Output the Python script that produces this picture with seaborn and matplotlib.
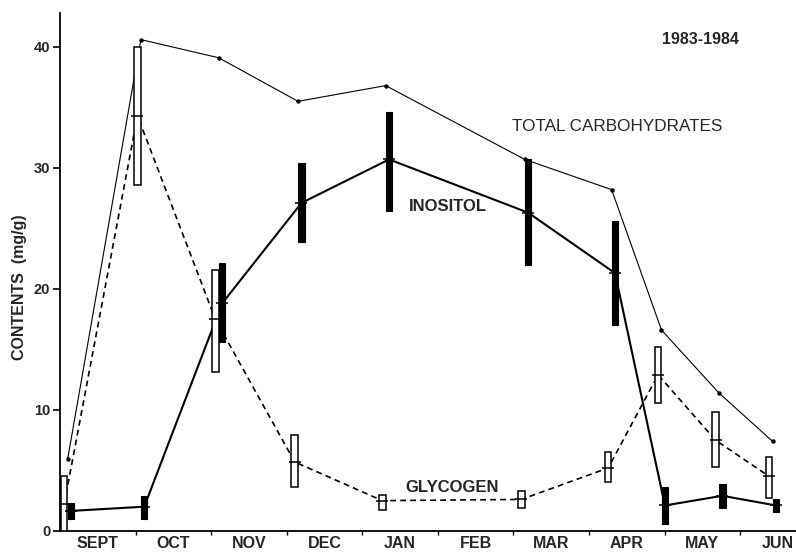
import matplotlib
matplotlib.use("Agg")
import matplotlib.pyplot as plt
import seaborn as sns
import pandas as pd

# sampling positions in months since 1 September 1983
sample_month = [0.10, 1.07, 2.10, 3.15, 4.31, 6.15, 7.30, 7.96, 8.72, 9.43]

total_carbs = [5.9, 40.6, 39.1, 35.5, 36.8, 30.7, 28.2, 16.6, 11.4, 7.4]

glycogen_mean = [2.2, 34.3, 17.5, 5.7, 2.5, 2.6, 5.2, 12.9, 7.5, 4.5]
glycogen_low = [0.0, 28.6, 13.1, 3.6, 1.7, 1.9, 4.0, 10.6, 5.3, 2.7]
glycogen_high = [4.5, 40.0, 21.6, 7.9, 3.0, 3.3, 6.5, 15.2, 9.8, 6.1]

inositol_mean = [1.65, 2.0, 18.8, 27.1, 30.7, 26.3, 21.3, 2.1, 2.9, 2.1]
inositol_low = [1.0, 1.0, 15.6, 23.9, 26.4, 22.0, 17.0, 0.6, 1.9, 1.6]
inositol_high = [2.3, 2.9, 22.1, 30.4, 34.6, 30.7, 25.6, 3.6, 3.9, 2.6]

months = ["SEPT", "OCT", "NOV", "DEC", "JAN", "FEB", "MAR", "APR", "MAY", "JUN"]
y_ticks = [0, 10, 20, 30, 40]


def main():
    sns.set_theme(style="white")
    plt.rcParams["font.family"] = ["Liberation Sans", "DejaVu Sans"]

    df = pd.DataFrame({
        "month": sample_month,
        "total": total_carbs,
        "gly": glycogen_mean,
        "gly_lo": glycogen_low,
        "gly_hi": glycogen_high,
        "ino": inositol_mean,
        "ino_lo": inositol_low,
        "ino_hi": inositol_high,
    })
    # small side-by-side offset so the two boxes don't overlap
    off = 0.045
    df["gx"] = df["month"] - off
    df["ix"] = df["month"] + off

    fig = plt.figure(figsize=(7.96, 5.53), dpi=100)
    ax = fig.add_axes([0.0754, 0.040, 0.9246, 0.9365])

    # total carbohydrates: thin line with dots
    sns.lineplot(data=df, x="month", y="total", ax=ax, color="black",
                 linewidth=0.8, marker="o", markersize=3.2, markeredgewidth=0,
                 zorder=2)
    # glycogen: dashed
    sns.lineplot(data=df, x="gx", y="gly", ax=ax, color="black",
                 linewidth=1.2, dashes=False, linestyle=(0, (3.5, 2.5)), zorder=2)
    # inositol: solid, heavier
    sns.lineplot(data=df, x="ix", y="ino", ax=ax, color="black",
                 linewidth=1.5, zorder=2)

    w = 0.085
    ax.bar(df["gx"], df["gly_hi"] - df["gly_lo"], bottom=df["gly_lo"], width=w,
           facecolor="white", edgecolor="black", linewidth=1.1, zorder=3)
    ax.bar(df["ix"], df["ino_hi"] - df["ino_lo"], bottom=df["ino_lo"], width=w,
           facecolor="black", edgecolor="black", linewidth=0.8, zorder=3)

    # mean marks across the boxes
    ax.scatter(df["gx"], df["gly"], marker="_", s=70, color="black",
               linewidths=1.1, zorder=4)
    ax.scatter(df["ix"], df["ino"], marker="_", s=70, color="black",
               linewidths=1.1, zorder=4)

    ax.set_xlim(0, 9.74)
    ax.set_ylim(0, 42.8)

    ax.set_xticks([i + 0.5 for i in range(len(months))])
    ax.set_xticklabels(months, fontsize=11.5, fontweight="bold")
    ax.set_xticks(range(1, len(months)), minor=True)
    ax.tick_params(axis="x", which="major", length=0, pad=4)
    ax.tick_params(axis="x", which="minor", length=3, width=1, direction="out",
                   bottom=True, color="black")

    ax.set_yticks(y_ticks)
    ax.set_yticklabels([str(v) for v in y_ticks], fontsize=10.5, fontweight="bold")
    ax.tick_params(axis="y", length=5, width=1.2, direction="out", left=True,
                   color="black", pad=2)

    ax.set_xlabel("")
    ax.set_ylabel("CONTENTS  (mg/g)", fontsize=11.5, fontweight="bold")
    ax.yaxis.set_label_coords(-0.045, 0.47)

    for side in ["top", "right"]:
        ax.spines[side].set_visible(False)
    for side in ["left", "bottom"]:
        ax.spines[side].set_color("black")
        ax.spines[side].set_linewidth(1.3)
    ax.grid(False)

    ax.text(8.48, 40.6, "1983-1984", fontsize=11.5, fontweight="bold",
            ha="center", va="center")
    ax.text(7.38, 33.4, "TOTAL CARBOHYDRATES", fontsize=12.3,
            ha="center", va="center")
    ax.text(5.13, 26.8, "INOSITOL", fontsize=12, fontweight="bold",
            ha="center", va="center")
    ax.text(5.19, 3.55, "GLYCOGEN", fontsize=12, fontweight="bold",
            ha="center", va="center")

    fig.savefig("out.png", dpi=100, facecolor="white")
    plt.close(fig)


if __name__ == "__main__":
    main()
